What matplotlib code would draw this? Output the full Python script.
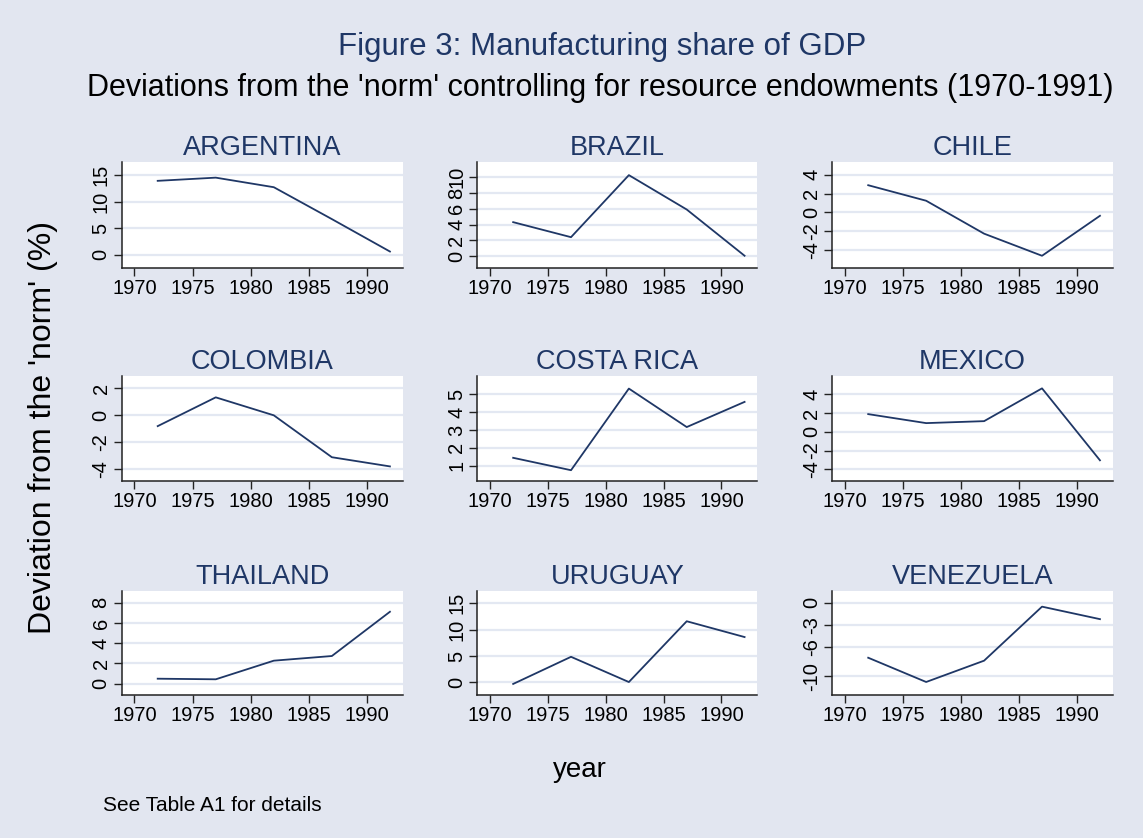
import numpy as np
import matplotlib
matplotlib.use('Agg')
import matplotlib.pyplot as plt
from matplotlib import font_manager

# DATA ------------------------------------------------------------------
years = [1972, 1977, 1982, 1987, 1992]

countries = ['ARGENTINA', 'BRAZIL', 'CHILE',
             'COLOMBIA', 'COSTA RICA', 'MEXICO',
             'THAILAND', 'URUGUAY', 'VENEZUELA']

argentina = [13.9, 14.5, 12.7, 6.7, 0.6]
brazil = [4.3, 2.4, 10.25, 5.9, 0.05]
chile = [2.9, 1.25, -2.25, -4.6, -0.35]
colombia = [-0.8, 1.33, 0.0, -3.1, -3.78]
costa_rica = [1.45, 0.76, 5.3, 3.16, 4.56]
mexico = [1.89, 0.93, 1.14, 4.64, -3.04]
thailand = [0.49, 0.43, 2.27, 2.73, 7.1]
uruguay = [-0.3, 4.85, 0.06, 11.6, 8.6]
venezuela = [-7.5, -10.8, -7.9, -0.55, -2.25]

series = [argentina, brazil, chile, colombia, costa_rica, mexico,
          thailand, uruguay, venezuela]

yticks = [[0, 5, 10, 15], [0, 2, 4, 6, 8, 10], [-4, -2, 0, 2, 4],
          [-4, -2, 0, 2], [1, 2, 3, 4, 5], [-4, -2, 0, 2, 4],
          [0, 2, 4, 6, 8], [0, 5, 10, 15], [-10, -6, -3, 0]]

ylims = [(-2.5, 17.5), (-1.5, 11.95), (-5.9, 5.4),
         (-4.86, 2.91), (0.16, 6.0), (-5.25, 5.96),
         (-1.12, 9.18), (-2.4, 17.4), (-12.57, 1.62)]

xticks = [1970, 1975, 1980, 1985, 1990]

# STYLE -----------------------------------------------------------------
bg = '#e2e6f0'
navy = '#1f3766'
grid_col = '#e3e8f2'

names = {f.name for f in font_manager.fontManager.ttflist}
main_font = 'Liberation Sans'
tick_font = 'Liberation Sans Narrow' if 'Liberation Sans Narrow' in names else 'Liberation Sans'
tick_size = 17.5 if tick_font == 'Liberation Sans Narrow' else 14.5
plt.rcParams['font.family'] = [main_font, 'DejaVu Sans']

W, H = 1143, 838
fig = plt.figure(figsize=(W / 100, H / 100), dpi=100, facecolor=bg)

def px_axes(x0, y0, x1, y1):
    # pixel box (top-left origin) -> figure axes
    return fig.add_axes([x0 / W, 1 - y1 / H, (x1 - x0) / W, (y1 - y0) / H])

col_x = [(121.7, 402.7), (477.3, 757.3), (832.3, 1112.7)]
row_y = [(161.7, 268), (376, 481), (590.7, 695)]

for i, name in enumerate(countries):
    r, c = divmod(i, 3)
    ax = px_axes(col_x[c][0], row_y[r][0], col_x[c][1], row_y[r][1])
    ax.set_facecolor('white')
    for t in yticks[i]:
        ax.axhline(t, color=grid_col, lw=1.6, zorder=1)
    ax.plot(years, series[i], color=navy, lw=1.3, zorder=3)
    ax.set_xlim(1968.9, 1993.1)
    ax.set_ylim(*ylims[i])
    ax.set_xticks(xticks)
    ax.set_yticks(yticks[i])
    ax.set_yticklabels([str(t) for t in yticks[i]], rotation=90, va='center')
    for s in ['top', 'right']:
        ax.spines[s].set_visible(False)
    for s in ['left', 'bottom']:
        ax.spines[s].set_color('#222222')
        ax.spines[s].set_linewidth(1.1)
    ax.tick_params(length=6, width=1.0, color='#222222', pad=2,
                   labelsize=tick_size, labelcolor='black')
    for lab in ax.get_xticklabels() + ax.get_yticklabels():
        lab.set_fontfamily(tick_font)
    ax.set_title(name, color=navy, fontsize=19.5, pad=5)

fig.text(602 / W, 1 - 47 / H, 'Figure 3: Manufacturing share of GDP',
         color=navy, fontsize=22.5, ha='center', va='center')
fig.text(600 / W, 1 - 88 / H,
         "Deviations from the 'norm' controlling for resource endowments (1970-1991)",
         color='black', fontsize=22, ha='center', va='center')
fig.text(43 / W, 1 - 428 / H, "Deviation from the 'norm' (%)",
         fontsize=23, rotation=90, ha='center', va='center')
fig.text(580 / W, 1 - 770 / H, 'year', fontsize=20, ha='center', va='center')
fig.text(103 / W, 1 - 805 / H, 'See Table A1 for details', fontsize=15,
         ha='left', va='center')

fig.savefig('out.png', dpi=100, facecolor=bg)
